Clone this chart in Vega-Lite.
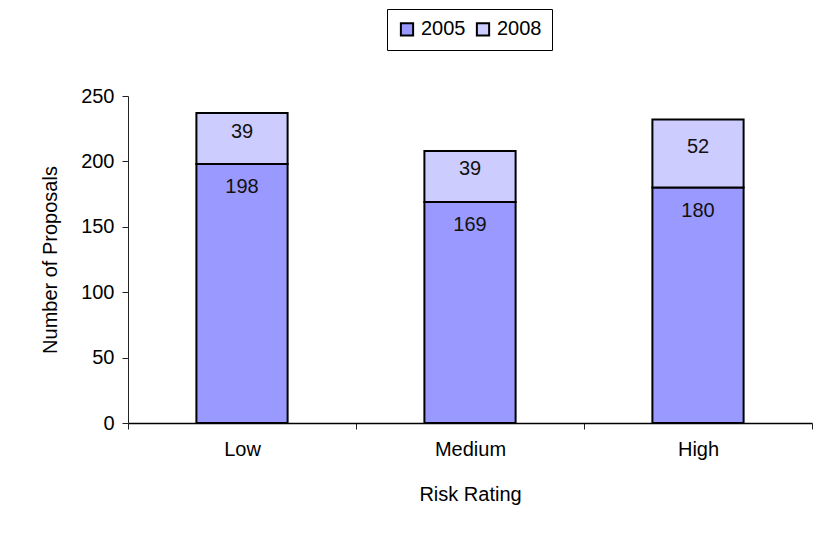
{
  "$schema": "https://vega.github.io/schema/vega-lite/v6.json",
  "width": 684,
  "height": 327,
  "padding": {"left": 40, "top": 8, "right": 8, "bottom": 5},
  "background": "white",
  "config": {
    "view": {"stroke": null},
    "font": "Liberation Sans",
    "axis": {
      "labelFont": "Liberation Sans",
      "titleFont": "Liberation Sans",
      "labelFontSize": 20,
      "titleFontSize": 20,
      "titleFontWeight": "normal",
      "labelColor": "black",
      "titleColor": "black",
      "grid": false,
      "tickColor": "#222",
      "domainColor": "#222",
      "tickSize": 6
    },
    "legend": {
      "labelFont": "Liberation Sans",
      "labelFontSize": 20,
      "labelColor": "black"
    }
  },
  "data": {
    "values": [
      {"rating": "Low", "year": "2005", "value": 198},
      {"rating": "Low", "year": "2008", "value": 39},
      {"rating": "Medium", "year": "2005", "value": 169},
      {"rating": "Medium", "year": "2008", "value": 39},
      {"rating": "High", "year": "2005", "value": 180},
      {"rating": "High", "year": "2008", "value": 52}
    ]
  },
  "encoding": {
    "x": {
      "field": "rating",
      "type": "nominal",
      "sort": ["Low", "Medium", "High"],
      "scale": {"paddingInner": 0, "paddingOuter": 0},
      "axis": {
        "title": "Risk Rating",
        "labelAngle": 0,
        "tickBand": "extent",
        "labelPadding": 10,
        "titlePadding": 25,
        "domainWidth": 1.5,
        "domainColor": "black"
      }
    }
  },
  "layer": [
    {
      "mark": {"type": "bar", "width": {"band": 0.4}, "stroke": "black", "strokeWidth": 2},
      "encoding": {
        "y": {
          "field": "value",
          "type": "quantitative",
          "stack": "zero",
          "scale": {"domain": [0, 250], "nice": false},
          "axis": {
            "title": "Number of Proposals",
            "values": [0, 50, 100, 150, 200, 250],
            "labelPadding": 8,
            "titlePadding": 20
          }
        },
        "color": {
          "field": "year",
          "type": "nominal",
          "scale": {"domain": ["2005", "2008"], "range": ["#9999FF", "#CCCCFF"]},
          "legend": {
            "title": null,
            "orient": "none",
            "legendX": 259,
            "legendY": -87,
            "direction": "horizontal",
            "strokeColor": "black",
            "padding": 10,
            "symbolType": "square",
            "symbolSize": 150,
            "symbolStrokeColor": "black",
            "symbolStrokeWidth": 2,
            "symbolOpacity": 1,
            "labelOffset": 4,
            "columnPadding": 6
          }
        },
        "order": {"field": "year"}
      }
    },
    {
      "transform": [{"filter": "datum.year == '2005'"}],
      "mark": {"type": "text", "baseline": "middle", "dy": 23, "fontSize": 20, "color": "#111"},
      "encoding": {
        "y": {"field": "value", "type": "quantitative"},
        "text": {"field": "value", "type": "quantitative"}
      }
    },
    {
      "mark": {"type": "text", "baseline": "middle", "dy": -7, "fontSize": 20, "color": "#111"},
      "encoding": {
        "y": {"field": "value", "type": "quantitative", "stack": "zero", "bandPosition": 0.5},
        "detail": {"field": "year"},
        "order": {"field": "year"},
        "text": {
          "condition": {"test": "datum.year == '2008'", "field": "value", "type": "quantitative"},
          "value": ""
        }
      }
    }
  ]
}
